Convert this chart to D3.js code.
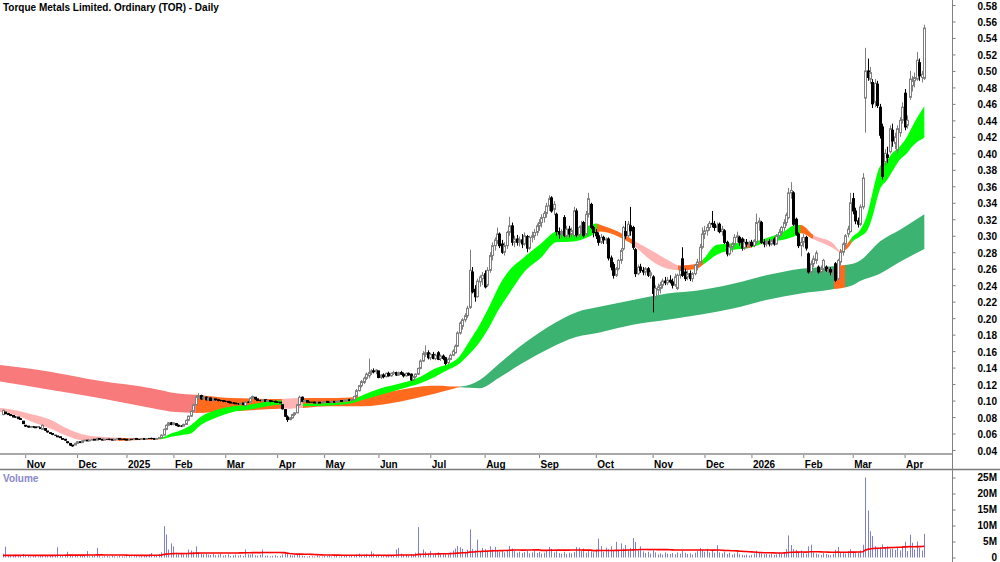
<!DOCTYPE html>
<html><head><meta charset="utf-8">
<script src="https://cdnjs.cloudflare.com/ajax/libs/d3/7.8.5/d3.min.js"></script>
<style>html,body{margin:0;padding:0;background:#fff;}svg{display:block;font-family:"Liberation Sans",Arial,sans-serif;}</style>
</head><body><svg id="c" width="1000" height="562"></svg>
<script>
const title = "Torque Metals Limited. Ordinary (TOR) - Daily";
const monthTickIndex = [9,30,50,69,90,111,130,152,173,195,217,240,263,284,303,324,344,365];
const monthTickLabel = ["Nov","Dec","2025","Feb","Mar","Apr","May","Jun","Jul","Aug","Sep","Oct","Nov","Dec","2026","Feb","Mar","Apr"];
const priceTicks = [0.04,0.06,0.08,0.10,0.12,0.14,0.16,0.18,0.20,0.22,0.24,0.26,0.28,0.30,0.32,0.34,0.36,0.38,0.40,0.42,0.44,0.46,0.48,0.50,0.52,0.54,0.56,0.58];
const volumeTicks = [0,5,10,15,20,25];
const volumeTickLabel = ["0","5M","10M","15M","20M","25M"];

// daily candles [open, high, low, close]
const ohlc = [
[0.083,0.089,0.082,0.088],[0.086,0.086,0.084,0.084],[0.084,0.085,0.083,0.083],[0.083,0.083,0.081,0.082],[0.082,0.082,0.080,0.080],[0.080,0.081,0.079,0.080],[0.080,0.080,0.078,0.078],[0.078,0.079,0.077,0.077],[0.075,0.075,0.072,0.072],[0.070,0.070,0.068,0.069],
[0.069,0.069,0.067,0.068],[0.068,0.068,0.068,0.068],[0.068,0.069,0.067,0.068],[0.068,0.068,0.067,0.067],[0.068,0.068,0.068,0.068],[0.067,0.067,0.066,0.066],[0.065,0.071,0.065,0.070],[0.066,0.066,0.063,0.064],[0.063,0.063,0.061,0.062],[0.061,0.061,0.060,0.060],
[0.060,0.060,0.058,0.059],[0.058,0.058,0.057,0.058],[0.057,0.057,0.056,0.056],[0.056,0.056,0.055,0.055],[0.054,0.054,0.053,0.053],[0.053,0.053,0.051,0.052],[0.050,0.050,0.048,0.049],[0.048,0.048,0.045,0.046],[0.046,0.046,0.044,0.045],[0.046,0.049,0.046,0.048],
[0.048,0.051,0.048,0.050],[0.050,0.050,0.049,0.049],[0.049,0.052,0.049,0.051],[0.051,0.052,0.051,0.052],[0.052,0.052,0.051,0.051],[0.051,0.052,0.051,0.052],[0.052,0.053,0.052,0.053],[0.053,0.053,0.052,0.052],[0.052,0.055,0.052,0.054],[0.054,0.054,0.053,0.053],
[0.053,0.053,0.052,0.052],[0.052,0.053,0.052,0.053],[0.053,0.053,0.053,0.053],[0.053,0.054,0.052,0.053],[0.053,0.053,0.052,0.052],[0.052,0.053,0.052,0.053],[0.053,0.054,0.053,0.054],[0.054,0.054,0.053,0.053],[0.053,0.053,0.053,0.053],[0.053,0.054,0.052,0.053],
[0.053,0.053,0.052,0.052],[0.052,0.053,0.052,0.053],[0.053,0.053,0.053,0.053],[0.053,0.054,0.053,0.054],[0.054,0.054,0.053,0.053],[0.053,0.053,0.052,0.053],[0.053,0.054,0.053,0.054],[0.054,0.054,0.053,0.053],[0.053,0.054,0.053,0.054],[0.054,0.054,0.054,0.054],
[0.054,0.055,0.053,0.054],[0.054,0.054,0.053,0.053],[0.053,0.054,0.053,0.054],[0.054,0.055,0.054,0.055],[0.055,0.059,0.055,0.058],[0.058,0.066,0.058,0.065],[0.065,0.071,0.064,0.070],[0.070,0.074,0.069,0.073],[0.073,0.074,0.070,0.071],[0.071,0.074,0.070,0.073],
[0.072,0.072,0.069,0.070],[0.070,0.071,0.068,0.069],[0.069,0.070,0.068,0.069],[0.069,0.072,0.069,0.071],[0.071,0.077,0.071,0.076],[0.076,0.082,0.075,0.081],[0.081,0.088,0.080,0.087],[0.087,0.096,0.086,0.095],[0.095,0.106,0.094,0.104],[0.104,0.109,0.101,0.106],
[0.106,0.107,0.101,0.102],[0.103,0.106,0.101,0.104],[0.104,0.105,0.100,0.101],[0.101,0.104,0.100,0.103],[0.103,0.104,0.100,0.100],[0.100,0.103,0.099,0.102],[0.102,0.102,0.100,0.101],[0.101,0.102,0.099,0.100],[0.100,0.101,0.099,0.100],[0.100,0.100,0.098,0.099],
[0.099,0.100,0.098,0.099],[0.099,0.099,0.097,0.098],[0.098,0.099,0.097,0.097],[0.097,0.098,0.096,0.097],[0.097,0.097,0.096,0.096],[0.096,0.097,0.095,0.096],[0.096,0.097,0.096,0.097],[0.097,0.097,0.095,0.095],[0.094,0.099,0.093,0.098],[0.098,0.099,0.097,0.098],
[0.098,0.104,0.098,0.103],[0.103,0.106,0.102,0.105],[0.104,0.104,0.101,0.102],[0.102,0.102,0.100,0.100],[0.100,0.101,0.099,0.100],[0.100,0.101,0.100,0.101],[0.101,0.101,0.099,0.099],[0.099,0.100,0.099,0.100],[0.100,0.100,0.098,0.099],[0.099,0.100,0.099,0.099],
[0.099,0.100,0.098,0.098],[0.098,0.099,0.097,0.098],[0.098,0.098,0.097,0.097],[0.095,0.095,0.089,0.090],[0.089,0.089,0.080,0.081],[0.080,0.082,0.074,0.077],[0.077,0.080,0.076,0.079],[0.079,0.084,0.078,0.083],[0.083,0.086,0.081,0.085],[0.085,0.096,0.085,0.095],
[0.095,0.106,0.094,0.104],[0.104,0.105,0.098,0.099],[0.099,0.102,0.098,0.100],[0.100,0.100,0.098,0.098],[0.098,0.099,0.097,0.098],[0.098,0.098,0.098,0.098],[0.098,0.099,0.097,0.097],[0.097,0.098,0.097,0.098],[0.098,0.098,0.097,0.097],[0.097,0.098,0.097,0.098],
[0.098,0.099,0.098,0.099],[0.099,0.099,0.097,0.098],[0.098,0.098,0.098,0.098],[0.098,0.099,0.097,0.099],[0.099,0.099,0.098,0.098],[0.098,0.099,0.098,0.099],[0.099,0.100,0.099,0.100],[0.100,0.100,0.099,0.099],[0.099,0.101,0.099,0.100],[0.100,0.101,0.100,0.101],
[0.101,0.102,0.100,0.100],[0.100,0.102,0.100,0.101],[0.101,0.106,0.101,0.105],[0.105,0.114,0.104,0.112],[0.112,0.119,0.111,0.118],[0.118,0.125,0.116,0.123],[0.122,0.129,0.120,0.127],[0.127,0.134,0.125,0.132],[0.130,0.151,0.127,0.134],[0.134,0.138,0.131,0.136],
[0.136,0.139,0.133,0.135],[0.135,0.138,0.132,0.137],[0.136,0.136,0.127,0.128],[0.128,0.132,0.126,0.131],[0.131,0.133,0.127,0.129],[0.129,0.134,0.128,0.133],[0.133,0.135,0.129,0.130],[0.130,0.134,0.129,0.133],[0.133,0.136,0.131,0.134],[0.134,0.135,0.130,0.131],
[0.131,0.135,0.130,0.134],[0.134,0.136,0.131,0.132],[0.132,0.134,0.128,0.130],[0.130,0.134,0.129,0.133],[0.133,0.134,0.130,0.131],[0.132,0.133,0.124,0.125],[0.125,0.130,0.124,0.129],[0.129,0.133,0.127,0.132],[0.132,0.140,0.131,0.139],[0.139,0.150,0.138,0.148],
[0.148,0.160,0.147,0.157],[0.156,0.167,0.153,0.158],[0.158,0.161,0.150,0.152],[0.152,0.158,0.149,0.156],[0.156,0.159,0.150,0.151],[0.151,0.157,0.149,0.155],[0.158,0.160,0.149,0.150],[0.151,0.156,0.148,0.154],[0.154,0.156,0.149,0.151],[0.152,0.153,0.143,0.145],
[0.146,0.152,0.144,0.150],[0.150,0.157,0.149,0.155],[0.155,0.162,0.154,0.160],[0.158,0.168,0.157,0.166],[0.166,0.184,0.165,0.182],[0.182,0.196,0.180,0.194],[0.190,0.200,0.186,0.198],[0.198,0.206,0.195,0.203],[0.203,0.215,0.200,0.212],[0.213,0.283,0.211,0.258],
[0.256,0.262,0.230,0.232],[0.235,0.240,0.220,0.226],[0.226,0.248,0.225,0.245],[0.244,0.252,0.238,0.250],[0.248,0.256,0.240,0.252],[0.254,0.258,0.236,0.238],[0.240,0.262,0.238,0.258],[0.258,0.280,0.255,0.276],[0.276,0.292,0.270,0.288],[0.288,0.298,0.282,0.295],
[0.294,0.310,0.290,0.302],[0.302,0.304,0.285,0.288],[0.290,0.295,0.278,0.280],[0.280,0.292,0.276,0.288],[0.288,0.306,0.284,0.304],[0.304,0.323,0.300,0.312],[0.312,0.316,0.288,0.292],[0.292,0.300,0.286,0.296],[0.296,0.301,0.288,0.292],[0.292,0.299,0.287,0.295],
[0.295,0.302,0.285,0.290],[0.290,0.304,0.288,0.300],[0.299,0.301,0.280,0.285],[0.285,0.300,0.283,0.298],[0.298,0.305,0.292,0.300],[0.300,0.308,0.295,0.304],[0.304,0.315,0.300,0.312],[0.312,0.320,0.306,0.316],[0.316,0.326,0.310,0.322],[0.322,0.330,0.316,0.327],
[0.327,0.340,0.322,0.336],[0.336,0.349,0.330,0.345],[0.346,0.348,0.328,0.330],[0.332,0.342,0.325,0.338],[0.326,0.328,0.300,0.305],[0.305,0.310,0.296,0.302],[0.302,0.308,0.297,0.305],[0.322,0.325,0.298,0.300],[0.300,0.312,0.296,0.308],[0.308,0.312,0.298,0.302],
[0.302,0.310,0.298,0.306],[0.300,0.335,0.298,0.330],[0.330,0.333,0.298,0.301],[0.301,0.312,0.298,0.310],[0.310,0.318,0.303,0.312],[0.316,0.318,0.298,0.300],[0.302,0.330,0.300,0.326],[0.326,0.352,0.322,0.345],[0.338,0.340,0.308,0.310],[0.310,0.312,0.298,0.304],
[0.304,0.308,0.296,0.300],[0.300,0.304,0.288,0.292],[0.292,0.302,0.290,0.298],[0.298,0.300,0.290,0.295],[0.295,0.298,0.290,0.296],[0.296,0.298,0.270,0.273],[0.273,0.276,0.258,0.262],[0.265,0.268,0.248,0.252],[0.252,0.262,0.250,0.260],[0.260,0.272,0.258,0.270],
[0.270,0.285,0.266,0.282],[0.284,0.312,0.282,0.310],[0.305,0.318,0.296,0.300],[0.300,0.318,0.298,0.314],[0.312,0.335,0.300,0.306],[0.310,0.312,0.283,0.286],[0.283,0.285,0.250,0.254],[0.254,0.265,0.252,0.262],[0.262,0.266,0.255,0.258],[0.258,0.262,0.252,0.256],
[0.256,0.262,0.252,0.260],[0.260,0.262,0.250,0.252],[0.252,0.258,0.248,0.255],[0.250,0.252,0.207,0.230],[0.226,0.240,0.222,0.236],[0.234,0.242,0.228,0.238],[0.236,0.244,0.230,0.240],[0.240,0.248,0.236,0.245],[0.245,0.250,0.240,0.243],[0.243,0.250,0.240,0.246],
[0.246,0.252,0.242,0.244],[0.244,0.248,0.236,0.240],[0.240,0.254,0.238,0.250],[0.236,0.254,0.234,0.252],[0.252,0.262,0.248,0.258],[0.272,0.286,0.250,0.252],[0.256,0.260,0.245,0.248],[0.250,0.258,0.246,0.254],[0.254,0.258,0.245,0.248],[0.248,0.256,0.244,0.254],
[0.254,0.266,0.252,0.264],[0.264,0.272,0.258,0.268],[0.268,0.290,0.266,0.286],[0.286,0.310,0.284,0.302],[0.302,0.312,0.296,0.306],[0.306,0.314,0.300,0.310],[0.310,0.318,0.306,0.315],[0.315,0.330,0.310,0.314],[0.314,0.318,0.306,0.310],[0.310,0.316,0.305,0.312],
[0.314,0.316,0.303,0.305],[0.305,0.312,0.300,0.308],[0.306,0.308,0.290,0.292],[0.292,0.294,0.275,0.278],[0.278,0.290,0.276,0.286],[0.286,0.292,0.280,0.290],[0.290,0.302,0.288,0.298],[0.298,0.305,0.292,0.300],[0.298,0.300,0.288,0.292],[0.296,0.298,0.282,0.285],
[0.285,0.296,0.283,0.292],[0.292,0.296,0.286,0.290],[0.290,0.294,0.285,0.292],[0.292,0.295,0.286,0.288],[0.288,0.296,0.286,0.294],[0.292,0.327,0.290,0.316],[0.316,0.322,0.306,0.318],[0.316,0.318,0.290,0.292],[0.292,0.296,0.286,0.290],[0.290,0.295,0.287,0.293],
[0.293,0.296,0.287,0.290],[0.290,0.296,0.288,0.294],[0.296,0.298,0.288,0.290],[0.290,0.302,0.289,0.300],[0.300,0.308,0.296,0.304],[0.304,0.312,0.300,0.310],[0.310,0.320,0.306,0.316],[0.316,0.328,0.312,0.325],[0.322,0.358,0.320,0.352],[0.352,0.365,0.345,0.355],
[0.352,0.354,0.312,0.314],[0.320,0.322,0.300,0.302],[0.302,0.304,0.285,0.288],[0.288,0.298,0.275,0.292],[0.292,0.302,0.286,0.298],[0.298,0.300,0.282,0.285],[0.278,0.280,0.254,0.256],[0.256,0.270,0.254,0.266],[0.266,0.276,0.262,0.272],[0.270,0.282,0.266,0.279],
[0.262,0.264,0.254,0.256],[0.256,0.264,0.254,0.260],[0.260,0.272,0.258,0.270],[0.262,0.264,0.256,0.258],[0.258,0.262,0.254,0.259],[0.259,0.262,0.252,0.256],[0.256,0.260,0.250,0.258],[0.266,0.268,0.244,0.246],[0.248,0.272,0.246,0.270],[0.268,0.284,0.264,0.280],
[0.280,0.292,0.276,0.290],[0.290,0.302,0.286,0.300],[0.302,0.312,0.298,0.308],[0.305,0.352,0.304,0.340],[0.345,0.352,0.326,0.330],[0.330,0.334,0.314,0.318],[0.318,0.322,0.310,0.314],[0.314,0.338,0.312,0.335],[0.335,0.376,0.332,0.370],[0.467,0.528,0.425,0.500],
[0.500,0.515,0.488,0.492],[0.490,0.505,0.484,0.498],[0.486,0.490,0.455,0.460],[0.462,0.490,0.456,0.485],[0.484,0.488,0.455,0.458],[0.456,0.460,0.418,0.422],[0.432,0.436,0.368,0.372],[0.390,0.405,0.385,0.400],[0.398,0.408,0.388,0.395],[0.402,0.434,0.400,0.430],
[0.428,0.436,0.408,0.415],[0.412,0.425,0.405,0.420],[0.404,0.434,0.400,0.430],[0.425,0.444,0.420,0.440],[0.440,0.462,0.436,0.456],[0.473,0.478,0.428,0.432],[0.434,0.446,0.430,0.440],[0.468,0.500,0.465,0.490],[0.482,0.494,0.475,0.488],[0.488,0.498,0.480,0.492],
[0.490,0.523,0.488,0.513],[0.510,0.515,0.488,0.494],[0.492,0.500,0.486,0.496],[0.491,0.556,0.489,0.552]
];

// daily volume, millions
const volume = [
1.2,3.4,0.8,0.5,0.6,0.9,0.4,0.7,1.1,0.6, 0.5,0.3,0.4,0.6,0.3,0.5,0.8,0.6,0.4,0.7,
0.9,0.5,3.2,0.6,0.4,0.7,1.8,0.9,0.6,0.5, 0.4,0.7,0.5,0.6,2.0,0.4,0.5,0.6,3.0,0.5,
0.3,0.4,0.5,0.3,0.6,0.4,0.3,0.5,0.4,0.3, 0.4,0.5,0.3,0.4,0.6,0.3,0.4,0.5,0.7,1.0,
1.4,0.8,0.6,1.1,1.6,9.8,7.2,2.5,4.4,3.5, 1.5,1.2,1.0,0.9,1.4,2.5,2.2,1.8,3.5,1.6,
1.2,1.0,1.3,0.9,0.8,1.1,0.7,0.9,1.2,0.6, 0.8,1.0,0.5,0.7,0.9,0.6,0.8,0.5,2.5,1.0,
0.9,1.2,0.7,0.6,0.8,2.5,0.5,0.6,0.4,0.5, 0.7,0.4,0.5,0.9,1.3,1.1,0.8,0.6,0.7,0.9,
1.2,0.6,0.4,0.3,0.5,0.4,0.3,0.6,0.4,0.3, 0.5,0.4,0.6,0.3,0.4,0.5,0.3,0.4,0.6,0.5,
0.4,0.5,0.7,1.0,1.2,0.8,0.9,1.1,0.7,1.9, 1.3,0.8,1.0,0.6,0.7,0.5,0.8,0.6,0.9,2.5,
3.0,1.2,0.8,1.0,0.7,1.1,0.9,1.5,9.5,1.2, 2.5,1.8,1.2,2.0,1.0,1.4,1.6,0.9,1.3,1.1,
1.0,1.5,2.2,2.8,3.6,3.2,2.7,1.8,2.4,8.8, 2.7,2.2,5.6,2.0,3.0,2.6,1.8,3.5,2.5,3.3,
2.4,1.8,2.0,1.6,2.2,3.6,2.8,2.0,1.5,1.8, 1.4,1.7,2.2,1.3,1.6,2.0,1.4,1.8,1.2,1.5,
2.2,3.3,2.7,1.6,2.0,1.4,1.2,1.8,1.1,1.5, 1.3,1.7,3.3,3.1,2.0,2.8,1.5,2.4,1.9,1.6,
2.5,5.9,3.6,1.8,3.1,2.6,3.5,2.2,4.9,2.4, 4.4,2.8,3.9,2.5,3.0,6.1,4.9,2.2,3.5,1.9,
1.4,1.8,1.2,2.5,1.6,1.0,1.3,0.9,1.6,1.2, 1.1,1.4,1.0,1.6,1.2,2.0,1.5,1.1,1.3,0.9,
1.5,2.0,3.0,2.4,1.8,2.7,1.6,2.2,1.5,3.9, 1.6,1.3,1.8,1.1,1.5,0.9,1.2,1.7,1.0,0.8,
0.7,0.9,0.6,0.8,1.2,2.1,1.5,1.3,1.0,1.1, 0.9,1.2,0.8,1.0,1.5,1.1,1.6,2.6,6.9,3.9,
2.6,2.4,1.8,2.2,1.5,1.2,3.5,4.0,1.6,1.2, 1.0,0.8,1.4,1.1,0.9,0.7,1.2,2.4,3.3,1.6,
1.8,1.2,2.0,2.6,1.9,1.3,1.5,2.2,4.0,25.0, 14.7,8.2,6.7,3.5,2.8,3.2,4.1,3.0,3.5,2.6,
2.8,2.4,3.1,2.2,3.5,4.9,2.0,7.1,4.6,2.5, 5.0,3.0,2.2,7.4
];
const volumeMAPeriod = 50;
const volumeMASeed = 0.6;

// ribbon edges: [day index, upper, lower]
const shortBand = [
[-1.2,0.091,0.086],[5.7,0.088,0.082],[12,0.083,0.074],[19,0.077,0.066],[26,0.066,0.057],[32,0.059,0.052],[39,0.056,0.052],[46,0.055,0.051],[55,0.054,0.052],[64,0.055,0.053],
[68,0.060,0.056],[72,0.064,0.058],[76,0.070,0.060],[80,0.080,0.070],[87,0.089,0.080],[93,0.093,0.086],[100,0.095,0.089],[107,0.099,0.093],[112,0.100,0.095],[116,0.097,0.090],
[121,0.096,0.093],[132,0.097,0.094],[140,0.099,0.096],[146,0.107,0.101],[153,0.115,0.107],[161,0.121,0.114],[169,0.129,0.121],[175,0.139,0.129],[180,0.144,0.137],[184,0.151,0.143],
[189,0.173,0.157],[193,0.192,0.171],[197,0.215,0.190],[201,0.240,0.212],[205,0.258,0.230],[211,0.274,0.256],[218,0.291,0.274],[224,0.305,0.292],[231,0.307,0.293],[238,0.313,0.300],
[240,0.315,0.303],[242,0.313,0.305],[249,0.305,0.299],[255,0.295,0.289],[262,0.283,0.271],[269,0.271,0.260],[274,0.264,0.258],[281,0.266,0.260],[283,0.270,0.264],[289,0.289,0.277],
[296,0.291,0.283],[302,0.292,0.285],[309,0.297,0.292],[316,0.305,0.295],[321,0.313,0.300],[323,0.313,0.303],[328,0.301,0.296],[336,0.291,0.285],[339,0.282,0.280],[342,0.291,0.285],
[344,0.299,0.293],[347,0.307,0.299],[350,0.327,0.307],[352,0.352,0.323],[355,0.384,0.356],[358,0.392,0.368],[360,0.400,0.378],[363,0.408,0.392],[366,0.420,0.400],[368,0.432,0.408],
[373,0.457,0.419]
];
const longBand = [
[-1.2,0.143,0.123],[19,0.135,0.113],[39,0.124,0.103],[60,0.115,0.091],[70,0.109,0.086],[78,0.107,0.085],[92,0.103,0.087],[112,0.102,0.090],[121,0.103,0.091],[132,0.103,0.093],
[145,0.105,0.093],[161,0.113,0.099],[173,0.118,0.107],[178,0.118,0.111],[182,0.117,0.114],[185,0.117,0.116],[193,0.125,0.115],[201,0.145,0.128],[209,0.165,0.143],[221,0.190,0.163],[232,0.207,0.177],
[242,0.214,0.183],[255,0.222,0.192],[269,0.230,0.198],[282,0.234,0.204],[296,0.242,0.212],[309,0.252,0.222],[323,0.260,0.230],[336,0.263,0.235],[344,0.266,0.240],[347,0.270,0.245],
[355,0.293,0.254],[363,0.307,0.268],[373,0.326,0.284]
];
// ribbon state by day-index span
const shortBandState = [
[-1.2,47,"down"],[47,64,"mixed"],[64,113,"up"],[113,121.5,"down"],[121.5,240.5,"up"],[240.5,255,"mixed"],[255,273.3,"down"],[273.3,283.4,"mixed"],
[283.4,301.2,"up"],[301.2,303.2,"mixed"],[303.2,322.7,"up"],[322.7,328,"mixed"],[328,339.3,"down"],[339.3,343.3,"mixed"],[343.3,374,"up"]
];
const longBandState = [
[-1.2,78,"down"],[78,113,"mixed"],[113,121.5,"pale"],[121.5,185,"mixed"],[185,336.5,"up"],[336.5,340.8,"mixed"],[340.8,374,"up"]
];

const shortColors = {up:"#00ff00", mixed:"#ff6a1c", down:"#ffb4b4"};
const longColors = {up:"#3cb371", mixed:"#ff6a1c", down:"#f87a7a", pale:"#ffb4b4"};

const svg = d3.select("#c");
const plotRight = 952, priceBottom = 454;
const x = d3.scaleLinear().domain([-1.2, 384.2]).range([0, plotRight]);
const y = d3.scaleLinear().domain([0.04, 0.58]).range([450, 5]);
const yv = d3.scaleLinear().domain([0, 25]).range([557.5, 477.5]);

svg.append("rect").attr("width",1000).attr("height",562).attr("fill","#fff");
const defs = svg.append("defs");
defs.append("clipPath").attr("id","pclip").append("rect").attr("x",0).attr("y",0).attr("width",plotRight).attr("height",priceBottom-1);
const gP = svg.append("g").attr("clip-path","url(#pclip)");

function drawBand(data, states, colors, id){
  const area = d3.area().x(d=>x(d[0])).y0(d=>y(d[2])).y1(d=>y(d[1])).curve(d3.curveMonotoneX);
  const dPath = area(data);
  states.forEach((s,k)=>{
    const x0 = Math.round(Math.max(0, x(s[0]))), x1 = Math.round(x(s[1]));
    const cid = id + k;
    defs.append("clipPath").attr("id",cid).append("rect").attr("x",x0).attr("y",0).attr("width",Math.max(0,x1-x0)).attr("height",priceBottom);
    gP.append("path").attr("d",dPath).attr("fill",colors[s[2]]).attr("clip-path",`url(#${cid})`);
  });
}
drawBand(longBand, longBandState, longColors, "lb");
drawBand(shortBand, shortBandState, shortColors, "sb");

// candles
const gC = gP.append("g");
ohlc.forEach((d,i)=>{
  const [o,h,l,c] = d;
  const cx = Math.round(x(i)) + 0.5;
  const up = c > o, flat = c === o;
  const col = up ? "#7f7f7f" : "#000";
  if (h > l) gC.append("line").attr("x1",cx).attr("x2",cx).attr("y1",y(h)).attr("y2",y(l)).attr("stroke",col).attr("stroke-width",1);
  if (flat) {
    gC.append("line").attr("x1",cx-1.5).attr("x2",cx+1.5).attr("y1",y(o)).attr("y2",y(o)).attr("stroke","#000").attr("stroke-width",1);
  } else {
    const top = y(Math.max(o,c)), bot = y(Math.min(o,c));
    gC.append("rect").attr("x",cx-1).attr("y",top).attr("width",2).attr("height",Math.max(bot-top,0.5))
      .attr("fill", up ? "#fff" : "#000").attr("stroke", col).attr("stroke-width",1);
  }
});

// panel separators
svg.append("line").attr("x1",0).attr("x2",plotRight).attr("y1",454).attr("y2",454).attr("stroke","#a8a8a8").attr("stroke-width",2);
svg.append("line").attr("x1",0).attr("x2",1000).attr("y1",469.5).attr("y2",469.5).attr("stroke","#7a7a7a").attr("stroke-width",1.5);
svg.append("line").attr("x1",plotRight+0.5).attr("x2",plotRight+0.5).attr("y1",0).attr("y2",562).attr("stroke","#808080").attr("stroke-width",1);

// price axis
const ay = svg.append("g").attr("transform",`translate(${plotRight+0.5},0)`)
  .call(d3.axisRight(y).tickValues(priceTicks).tickSize(3).tickSizeOuter(0).tickFormat(d3.format(".2f")));
ay.select(".domain").remove();
ay.selectAll(".tick line").attr("stroke","#808080");
ay.selectAll("text").attr("x",44.5).attr("text-anchor","end").attr("dy","0.4em")
  .attr("font-size",10).attr("font-weight","bold").attr("font-family","Liberation Sans, Arial, sans-serif").attr("fill","#000");

// volume axis
const av = svg.append("g").attr("transform",`translate(${plotRight+0.5},0)`)
  .call(d3.axisRight(yv).tickValues(volumeTicks).tickSize(3).tickSizeOuter(0).tickFormat(d=>volumeTickLabel[volumeTicks.indexOf(d)]));
av.select(".domain").remove();
av.selectAll(".tick line").attr("stroke","#808080");
av.selectAll("text").attr("x",44.5).attr("text-anchor","end").attr("dy","0.3em")
  .attr("font-size",10).attr("font-weight","bold").attr("font-family","Liberation Sans, Arial, sans-serif").attr("fill","#000");

// time axis
const ax = svg.append("g").attr("transform","translate(0,455)")
  .call(d3.axisBottom(x).tickValues(monthTickIndex).tickSize(3).tickSizeOuter(0).tickFormat(d=>monthTickLabel[monthTickIndex.indexOf(d)]));
ax.select(".domain").remove();
ax.selectAll(".tick line").attr("stroke","#808080");
ax.selectAll("text").attr("x",1).attr("text-anchor","start")
  .attr("font-size",10).attr("font-weight","bold").attr("font-family","Liberation Sans, Arial, sans-serif").attr("fill","#000");

// volume bars
const gV = svg.append("g");
volume.forEach((v,i)=>{
  const cx = Math.round(x(i)) + 0.5;
  gV.append("line").attr("x1",cx).attr("x2",cx).attr("y1",yv(0)).attr("y2",yv(v)).attr("stroke","#8080d0").attr("stroke-width",1);
});
// volume moving average
const volMA = volume.map((v,i)=>{
  let s = 0;
  for (let k=i-volumeMAPeriod+1;k<=i;k++) s += k>=0 ? volume[k] : volumeMASeed;
  return s/volumeMAPeriod;
});
svg.append("path").datum(volMA).attr("fill","none").attr("stroke","#ff0000").attr("stroke-width",1.6)
  .attr("d", d3.line().x((d,i)=>x(i)).y(d=>yv(d)));

// labels
svg.append("text").attr("x",3).attr("y",11).attr("font-size",10).attr("font-weight","bold").attr("fill","#000").text(title);
svg.append("text").attr("x",3).attr("y",482).attr("font-size",10).attr("font-weight","bold").attr("fill","#8888c8").text("Volume");
</script></body></html>
